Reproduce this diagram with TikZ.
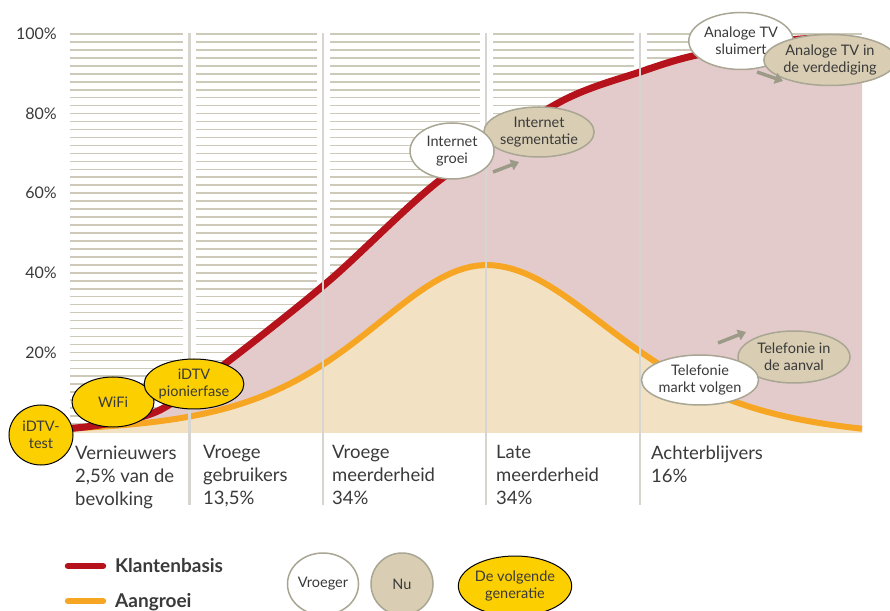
\documentclass[tikz,border=0pt]{standalone}
\usepackage{fontspec}
\setmainfont{Lato}
\usetikzlibrary{shapes.geometric,arrows.meta}
\definecolor{klant}{HTML}{B5121B}
\definecolor{oranje}{HTML}{F6A623}
\definecolor{roze}{HTML}{E3CBCB}
\definecolor{zand}{HTML}{F3E1C3}
\definecolor{geel}{HTML}{FCCF00}
\definecolor{nubeige}{HTML}{D9CEB3}
\definecolor{rand}{HTML}{A9A694}
\definecolor{pijlgrijs}{HTML}{9C9B88}
\definecolor{rooster}{HTML}{CECABA}
\definecolor{scheiding}{HTML}{D6D5CF}
\definecolor{tekst}{HTML}{3A3A3A}

\begin{document}
\begin{tikzpicture}[x=1pt,y=1pt,
        declare function={gl(\x)=178+668/(exp((\x-487)/160)+exp(-(\x-487)/160))^2;
                          gr(\x)=178+668/(exp((\x-487)/172)+exp(-(\x-487)/172))^2-5*(\x-487)/375;},
        bel/.style={ellipse,draw=rand,line width=1.5pt,inner sep=0pt,align=center,
                    text=tekst,font=\fontsize{14.5}{17}\selectfont},
        vroeger/.style={bel,fill=white},
        nu/.style={bel,fill=nubeige},
        volgend/.style={bel,fill=geel,draw=black,line width=1pt},
        kolom/.style={anchor=north west,align=left,inner sep=0pt,text=tekst,
                      font=\fontsize{18.5}{23}\selectfont},
        pct/.style={anchor=east,inner sep=0pt,text=tekst,font=\fontsize{16}{19}\selectfont},
        pijl/.style={pijlgrijs,line width=3.5pt,-{Triangle[length=8pt,width=11pt]}}]
    \useasboundingbox (0,0) rectangle (890,610);
    % raster
    \foreach \p in {0,2,...,100}
        \draw[rooster,line width=1.6pt] (70,{178+3.98*\p}) -- (862,{178+3.98*\p});
    \foreach \x in {189.5,323,486,640}
        \draw[white,line width=13pt] (\x,178) -- (\x,580);
    % vlakken
    \fill[roze] plot[smooth] coordinates {(40,179) (100,185) (160,200) (230,250) (330,330)
        (440,430) (560,508) (640,538) (697,555) (790,570) (835,572)} -- (862,565) -- (862,177) -- (40,177) -- cycle;
    \fill[zand] (40,177) -- plot[domain=40:487,samples=60] (\x,{gl(\x)})
        -- plot[domain=487:862,samples=60] (\x,{gr(\x)}) -- (862,177) -- cycle;
    % curves
    \draw[oranje,line width=6pt] plot[domain=40:487,samples=60] (\x,{gl(\x)})
        -- plot[domain=487:862,samples=60] (\x,{gr(\x)});
    \draw[klant,line width=7pt] plot[smooth] coordinates {(40,179) (100,185) (160,200) (230,250)
        (330,330) (440,430) (560,508) (640,538) (697,555) (790,570) (835,572)};
    \foreach \x in {189.5,323,486,640}
        \draw[scheiding,line width=2.6pt] (\x,577) -- (\x,105);
    % as
    \node[pct] (p100) at (57,576) {100\%};
    \node[pct] (p80) at (57,496.4) {80\%};
    \node[pct] (p60) at (57,416.8) {60\%};
    \node[pct] (p40) at (57,337.2) {40\%};
    \node[pct] (p20) at (57,257.6) {20\%};
    % groepen
    \node[kolom] (vern) at (75,164.5) {Vernieuwers\\2,5\% van de\\bevolking};
    \node[kolom] (vgebr) at (203,164.5) {Vroege\\gebruikers\\13,5\%};
    \node[kolom] (vmeer) at (332,164.5) {Vroege\\meerderheid\\34\%};
    \node[kolom] (lmeer) at (496,164.5) {Late\\meerderheid\\34\%};
    \node[kolom] (achter) at (651,164.5) {Achterblijvers\\16\%};
    % bellen
    \node[volgend,minimum width=64pt,minimum height=60pt] (test) at (41,175) {iDTV-\\test};
    \node[volgend,minimum width=82pt,minimum height=50pt] (wifi) at (113,208) {WiFi};
    \node[volgend,minimum width=95pt,minimum height=50pt] (pionier) at (194,226) {iDTV\\pionierfase};
    \node[nu,minimum width=102pt,minimum height=50pt] (iseg) at (539,478) {Internet\\segmentatie};
    \node[vroeger,minimum width=84pt,minimum height=56pt] (igroei) at (452,459) {Internet\\groei};
    \node[vroeger,minimum width=98pt,minimum height=57pt] (tvslaap) at (741,569) {Analoge TV\\sluimert};
    \node[nu,minimum width=114pt,minimum height=51pt] (tvverd) at (830,550) {Analoge TV in\\de verdediging};
    \node[nu,minimum width=112pt,minimum height=52pt] (telaan) at (794,253) {Telefonie in\\de aanval};
    \node[vroeger,minimum width=106pt,minimum height=50pt] (telvolg) at (700,230) {Telefonie\\markt volgen};
    % pijlen
    \coordinate (i1) at (493,438);
    \coordinate (i2) at (519,448);
    \coordinate (tv1) at (757,538);
    \coordinate (tv2) at (783,529);
    \coordinate (t1) at (718,267);
    \coordinate (t2) at (746,278);
    \draw[pijl] (i1) -- (i2);
    \draw[pijl] (tv1) -- (tv2);
    \draw[pijl] (t1) -- (t2);
    % legenda
    \draw[klant,line width=6.5pt,line cap=round] (68,44) -- (103,44);
    \node[anchor=west,inner sep=0pt,text=tekst,font=\fontsize{19}{21}\selectfont\bfseries] (lk) at (115,44) {Klantenbasis};
    \draw[oranje,line width=6.5pt,line cap=round] (68,9) -- (103,9);
    \node[anchor=west,inner sep=0pt,text=tekst,font=\fontsize{19}{21}\selectfont\bfseries] (la) at (115,8) {Aangroei};
    \node[vroeger,minimum size=62pt] (lv) at (323,26) {Vroeger};
    \node[nu,minimum size=62pt] (ln) at (402,26) {Nu};
    \node[volgend,minimum width=107pt,minimum height=60pt] (lg) at (515,24) {De volgende\\generatie};
\end{tikzpicture}
\end{document}
